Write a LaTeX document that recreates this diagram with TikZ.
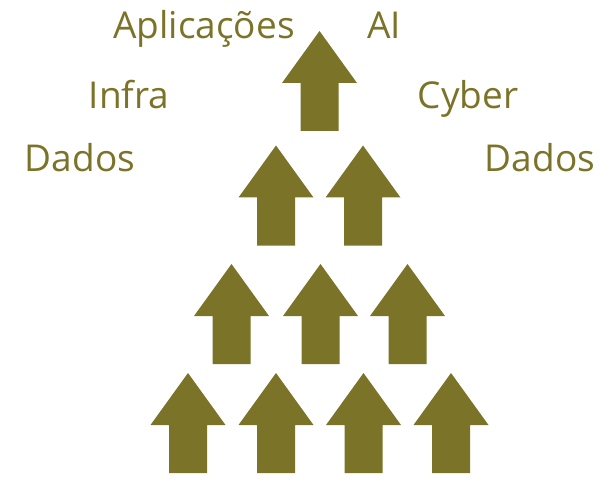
\documentclass[tikz,border=0pt]{standalone}
\usepackage{fontspec}
\setmainfont{Open Sans}
\definecolor{olive}{RGB}{123,115,39}
\tikzset{
  lbl/.style={anchor=base, text=olive, font=\fontsize{37}{40}\selectfont, inner sep=0pt},
  pics/uparrow/.style={code={
    \fill[olive] (0,0) -- (37.5,52) -- (19,52) -- (19,100) -- (-19,100) -- (-19,52) -- (-37.5,52) -- cycle;
  }}
}
\begin{document}
\begin{tikzpicture}[x=1pt,y=-1pt]
\useasboundingbox (0,0) rectangle (607,478);
% top
\pic at (319.5,31) {uparrow};
% row 2
\pic at (276,145.5) {uparrow};
\pic at (363,145.5) {uparrow};
% row 3
\pic at (231.5,264) {uparrow};
\pic at (320.5,264) {uparrow};
\pic at (407.5,264) {uparrow};
% row 4
\pic at (188,373) {uparrow};
\pic at (276,373) {uparrow};
\pic at (363.5,373) {uparrow};
\pic at (451,373) {uparrow};
% labels
\node[lbl] (apl) at (204,38.3) {Aplicações};
\node[lbl] (ai) at (384,38.3) {AI};
\node[lbl] (infra) at (129,108.3) {Infra};
\node[lbl] (cyber) at (468,108.3) {Cyber};
\node[lbl] (dadosl) at (80,171.7) {Dados};
\node[lbl] (dadosr) at (540,171.7) {Dados};
\end{tikzpicture}
\end{document}
